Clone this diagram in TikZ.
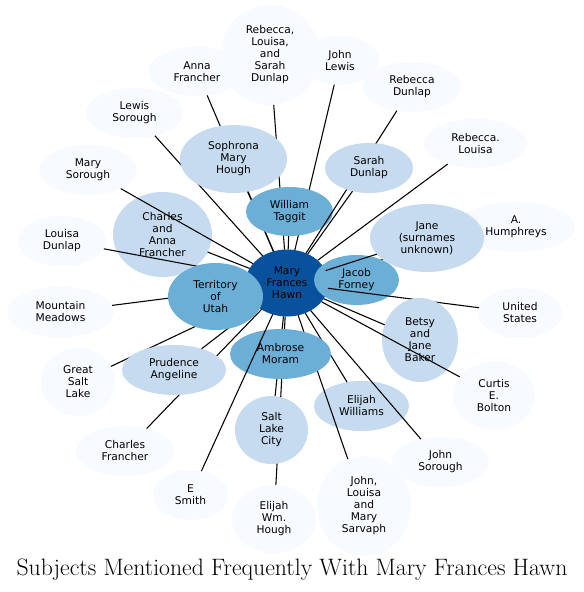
\documentclass[tikz,border=0pt]{standalone}
\usepackage{fontspec}
\newfontfamily\labelfont{DejaVu Sans}
\usetikzlibrary{shapes.geometric}
\definecolor{hubblue}{HTML}{08519C}
\definecolor{midblue}{HTML}{6BAED6}
\definecolor{lightblue}{HTML}{C6DBEF}
\definecolor{paleblue}{HTML}{F7FBFF}
\tikzset{
  subject/.style={ellipse,inner sep=0pt,outer sep=0pt,align=center,text=black,font=\labelfont\fontsize{8}{9}\selectfont},
  hub/.style={subject,fill=hubblue},
  often/.style={subject,fill=midblue},
  some/.style={subject,fill=lightblue},
  rare/.style={subject,fill=paleblue},
  link/.style={line width=0.8pt,black}
}
\begin{document}
\begin{tikzpicture}[x=0.75pt,y=-0.75pt]
\useasboundingbox (0,0) rectangle (584,592);
\fill[white] (0,0) rectangle (584,592);
\node[hub,minimum width=62.25pt,minimum height=50.25pt] (hawn) at (287,283) {Mary\\Frances\\Hawn};
\node[some,minimum width=74.25pt,minimum height=63.75pt] (charlesanna) at (162.5,234.5) {Charles\\and\\Anna\\Francher};
\draw[link] (hawn) -- (charlesanna);
\node[rare,minimum width=73.5pt,minimum height=37.5pt] (msorough) at (88,170) {Mary\\Sorough};
\draw[link] (hawn) -- (msorough);
\node[rare,minimum width=66pt,minimum height=37.5pt] (ldunlap) at (62,241) {Louisa\\Dunlap};
\draw[link] (hawn) -- (ldunlap);
\node[rare,minimum width=80.25pt,minimum height=37.5pt] (meadows) at (60.5,312) {Mountain\\Meadows};
\draw[link] (hawn) -- (meadows);
\node[rare,minimum width=55.5pt,minimum height=51pt] (saltlake) at (78,382) {Great\\Salt\\Lake};
\draw[link] (hawn) -- (saltlake);
\node[rare,minimum width=73.5pt,minimum height=37.5pt] (cfrancher) at (125,451) {Charles\\Francher};
\draw[link] (hawn) -- (cfrancher);
\node[some,minimum width=78pt,minimum height=37.5pt] (prudence) at (174,370) {Prudence\\Angeline};
\draw[link] (hawn) -- (prudence);
\node[often,minimum width=71.25pt,minimum height=50.25pt] (utah) at (215.5,296.5) {Territory\\of\\Utah};
\node[rare,minimum width=72.75pt,minimum height=37.5pt] (lsorough) at (134.5,113) {Lewis\\Sorough};
\draw[link] (hawn) -- (lsorough);
\node[rare,minimum width=72.75pt,minimum height=36.75pt] (annaf) at (197,71.5) {Anna\\Francher};
\draw[link] (hawn) -- (annaf);
\node[rare,minimum width=74.25pt,minimum height=75pt] (rlsdunlap) at (270,55) {Rebecca,\\Louisa,\\and\\Sarah\\Dunlap};
\draw[link] (hawn) -- (rlsdunlap);
\node[some,minimum width=80.25pt,minimum height=51pt] (sophrona) at (233.5,159) {Sophrona\\Mary\\Hough};
\draw[link] (hawn) -- (sophrona);
\node[rare,minimum width=58.5pt,minimum height=36.75pt] (jlewis) at (340,60.5) {John\\Lewis};
\draw[link] (hawn) -- (jlewis);
\node[often,minimum width=65.25pt,minimum height=36.75pt] (taggit) at (289.5,211.5) {William\\Taggit};
\draw[link] (hawn) -- (taggit);
\node[rare,minimum width=73.5pt,minimum height=37.5pt] (rdunlap) at (412,87) {Rebecca\\Dunlap};
\draw[link] (hawn) -- (rdunlap);
\node[some,minimum width=66pt,minimum height=37.5pt] (sdunlap) at (369,168) {Sarah\\Dunlap};
\draw[link] (hawn) -- (sdunlap);
\node[rare,minimum width=77.25pt,minimum height=36.75pt] (rlouisa) at (475.5,143.5) {Rebecca.\\Louisa};
\draw[link] (hawn) -- (rlouisa);
\node[rare,minimum width=88.5pt,minimum height=37.5pt] (humphreys) at (516,227) {A.\\Humphreys};
\draw[link] (hawn) -- (humphreys);
\node[often,minimum width=63.75pt,minimum height=37.5pt] (forney) at (356.5,280) {Jacob\\Forney};
\node[some,minimum width=85.5pt,minimum height=51pt] (jane) at (427,238) {Jane\\(surnames\\unknown)};
\draw[link] (hawn) -- (jane);
\node[rare,minimum width=63pt,minimum height=37.5pt] (states) at (520,313) {United\\States};
\draw[link] (hawn) -- (states);
\node[some,minimum width=57pt,minimum height=63pt] (baker) at (420,340) {Betsy\\and\\Jane\\Baker};
\draw[link] (hawn) -- (baker);
\node[rare,minimum width=61.5pt,minimum height=51pt] (bolton) at (494,395.5) {Curtis\\E.\\Bolton};
\draw[link] (hawn) -- (bolton);
\node[some,minimum width=71.25pt,minimum height=37.5pt] (williams) at (361.5,406) {Elijah\\Williams};
\draw[link] (hawn) -- (williams);
\node[rare,minimum width=72.75pt,minimum height=37.5pt] (jsorough) at (440.5,462) {John\\Sorough};
\draw[link] (hawn) -- (jsorough);
\node[rare,minimum width=70.5pt,minimum height=75pt] (sarvaph) at (364,506) {John,\\Louisa\\and\\Mary\\Sarvaph};
\draw[link] (hawn) -- (sarvaph);
\node[rare,minimum width=63pt,minimum height=51pt] (ehough) at (274,519) {Elijah\\Wm.\\Hough};
\draw[link] (hawn) -- (ehough);
\node[some,minimum width=54.75pt,minimum height=51pt] (slcity) at (271.5,430) {Salt\\Lake\\City};
\draw[link] (hawn) -- (slcity);
\node[often,minimum width=75.75pt,minimum height=37.5pt] (moram) at (280.5,354) {Ambrose\\Moram};
\node[rare,minimum width=56.25pt,minimum height=37.5pt] (esmith) at (190.5,495) {E\\Smith};
\draw[link] (hawn) -- (esmith);
\node[anchor=base,font=\fontsize{17.8}{19}\selectfont] (title) at (292,575) {Subjects Mentioned Frequently With Mary Frances Hawn};
\end{tikzpicture}
\end{document}
